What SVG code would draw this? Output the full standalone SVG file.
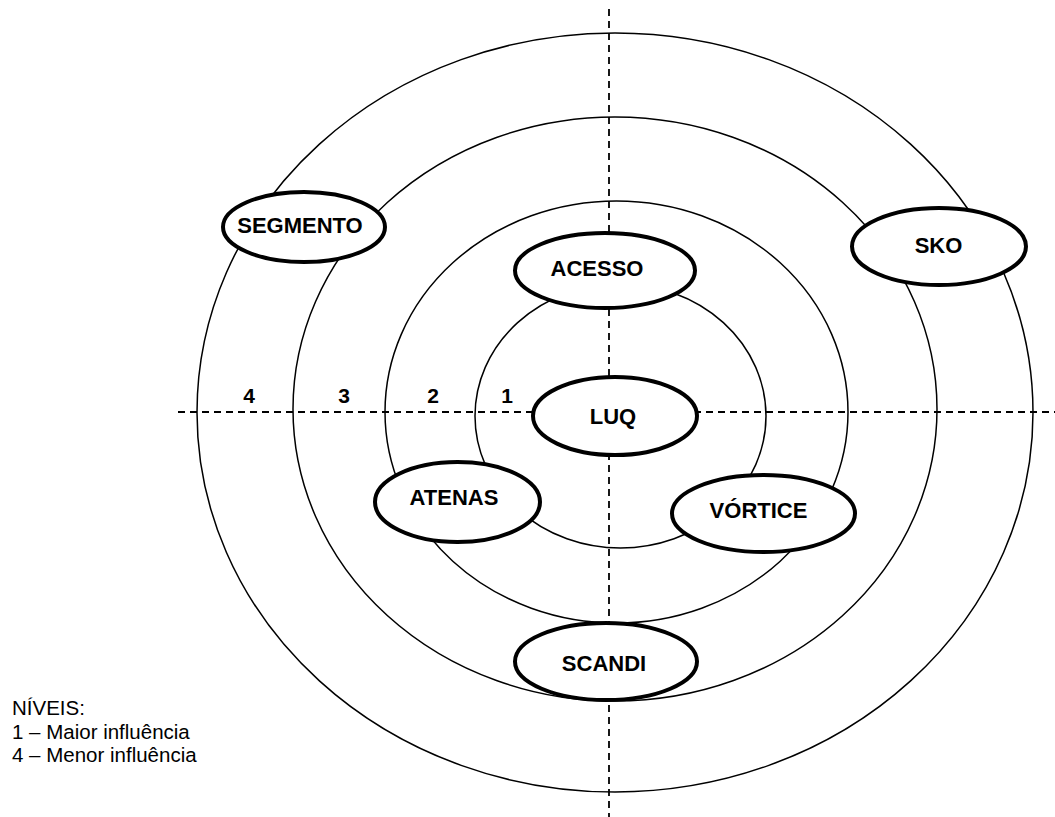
<svg xmlns="http://www.w3.org/2000/svg" width="1055" height="817" viewBox="0 0 1055 817">
<style>
.ring{fill:none;stroke:#000;stroke-width:1.5}
.axis{fill:none;stroke:#000;stroke-width:1.8;stroke-dasharray:7 5}
.node{fill:#fff;stroke:#000;stroke-width:4}
.lbl{font-family:"Liberation Sans",Arial,sans-serif;font-weight:bold;font-size:22px;text-anchor:middle;fill:#000}
.lvl{font-family:"Liberation Sans",Arial,sans-serif;font-weight:bold;font-size:21px;text-anchor:middle;fill:#000}
.leg{font-family:"Liberation Sans",Arial,sans-serif;font-size:20.5px;fill:#000}
</style>
<rect width="1055" height="817" fill="#fff"/>
<g id="rings">
<ellipse class="ring" cx="615" cy="412.5" rx="418" ry="379.5"/>
<ellipse class="ring" cx="615" cy="409" rx="322" ry="292"/>
<ellipse class="ring" cx="616.5" cy="412" rx="231.5" ry="211"/>
<ellipse class="ring" cx="620.5" cy="416" rx="145.5" ry="132"/>
</g>
<g id="connectors">
<line class="axis" x1="178" y1="412" x2="1055" y2="412"/>
<line class="axis" x1="609" y1="9" x2="609" y2="817"/>
</g>
<g id="levels">
<text class="lvl" x="249" y="403">4</text>
<text class="lvl" x="344" y="403">3</text>
<text class="lvl" x="433" y="403">2</text>
<text class="lvl" x="507" y="403">1</text>
</g>
<g id="node-segmento"><ellipse class="node" cx="304" cy="227" rx="81" ry="35"/><text class="lbl" x="300" y="233">SEGMENTO</text></g>
<g id="node-sko"><ellipse class="node" cx="939" cy="246.5" rx="87" ry="38.5"/><text class="lbl" x="938.5" y="253">SKO</text></g>
<g id="node-acesso"><ellipse class="node" cx="605" cy="270.5" rx="90" ry="37.5"/><text class="lbl" x="597" y="276">ACESSO</text></g>
<g id="node-luq"><ellipse class="node" cx="615" cy="416" rx="82" ry="39"/><text class="lbl" x="613" y="424">LUQ</text></g>
<g id="node-atenas"><ellipse class="node" cx="457.5" cy="502" rx="82.5" ry="40"/><text class="lbl" x="454" y="505">ATENAS</text></g>
<g id="node-vortice"><ellipse class="node" cx="763.5" cy="513.5" rx="91.5" ry="38.5"/><text class="lbl" x="758.5" y="518">VÓRTICE</text></g>
<g id="node-scandi"><ellipse class="node" cx="606" cy="661.5" rx="91" ry="38.5"/><text class="lbl" x="604" y="671">SCANDI</text></g>
<g id="legend">
<text class="leg" x="12" y="715">NÍVEIS:</text>
<text class="leg" x="12" y="738.5">1 – Maior influência</text>
<text class="leg" x="12" y="762">4 – Menor influência</text>
</g>
</svg>
